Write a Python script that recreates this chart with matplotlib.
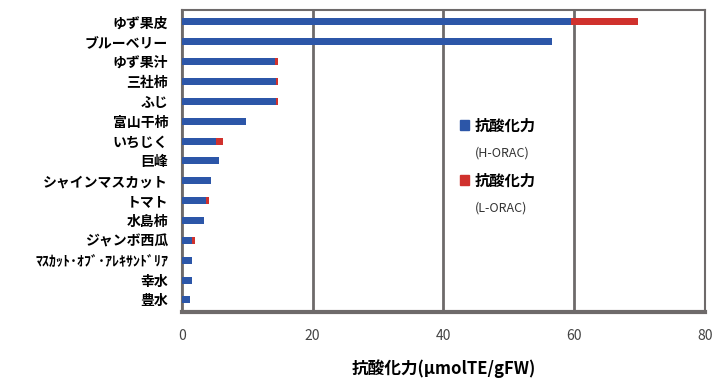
import matplotlib.pyplot as plt
from matplotlib.patches import Patch

plt.rcParams['font.family'] = ['Noto Sans CJK JP', 'DejaVu Sans']

# data (top to bottom as shown)
fruits = ['ゆず果皮', 'ブルーベリー', 'ゆず果汁', '三社柿', 'ふじ', '富山干柿', 'いちじく', '巨峰',
          'シャインマスカット', 'トマト', '水島柿', 'ジャンボ西瓜', 'ﾏｽｶｯﾄ･ｵﾌﾞ･ｱﾚｷｻﾝﾄﾞﾘｱ', '幸水', '豊水']
h_orac = [59.5, 56.7, 14.2, 14.4, 14.4, 9.8, 5.2, 5.6, 4.5, 3.7, 3.4, 1.5, 1.6, 1.6, 1.3]
l_orac = [10.3, 0.0, 0.5, 0.3, 0.3, 0.0, 1.1, 0.0, 0.0, 0.4, 0.0, 0.5, 0.0, 0.0, 0.0]

blue = '#2c56a8'
red = '#d0312d'
edge = '#6e6a6a'

fig = plt.figure(figsize=(7.25, 3.85), dpi=100)
ax = fig.add_axes([0.251, 0.19, 0.721, 0.784])

y = list(range(len(fruits)))[::-1]
ax.barh(y, h_orac, height=0.35, color=blue, zorder=3)
ax.barh(y, l_orac, left=h_orac, height=0.35, color=red, zorder=3)

ax.set_xlim(0, 80)
ax.set_ylim(-0.6, len(fruits) - 0.4)
ax.set_xticks([0, 20, 40, 60, 80])
ax.set_yticks(y)
ax.set_yticklabels(fruits, fontsize=10, fontweight='bold')
ax.tick_params(axis='y', length=0, pad=10)
ax.tick_params(axis='x', length=0, pad=12, labelsize=10, labelcolor='#444444')
ax.grid(axis='x', color=edge, linewidth=2, zorder=1)

for s in ax.spines.values():
    s.set_color(edge)
    s.set_linewidth(1.5)
ax.spines['bottom'].set_linewidth(3)

ax.set_xlabel('抗酸化力(μmolTE/gFW)', fontsize=12, fontweight='bold', labelpad=12)

# legend with a second, smaller line under each entry
handles = [Patch(color=blue), Patch(color='none'), Patch(color=red), Patch(color='none')]
labels = ['抗酸化力', '(H-ORAC)', '抗酸化力', '(L-ORAC)']
leg = ax.legend(handles, labels, loc='upper left', bbox_to_anchor=(0.505, 0.69),
                frameon=False, handlelength=0.6, handleheight=0.6, handletextpad=0.4,
                labelspacing=0.85, fontsize=11)
for i, t in enumerate(leg.get_texts()):
    if i % 2 == 0:
        t.set_fontweight('bold')
    else:
        t.set_fontsize(9)
        t.set_color('#333333')

fig.savefig('out.png', dpi=100)
